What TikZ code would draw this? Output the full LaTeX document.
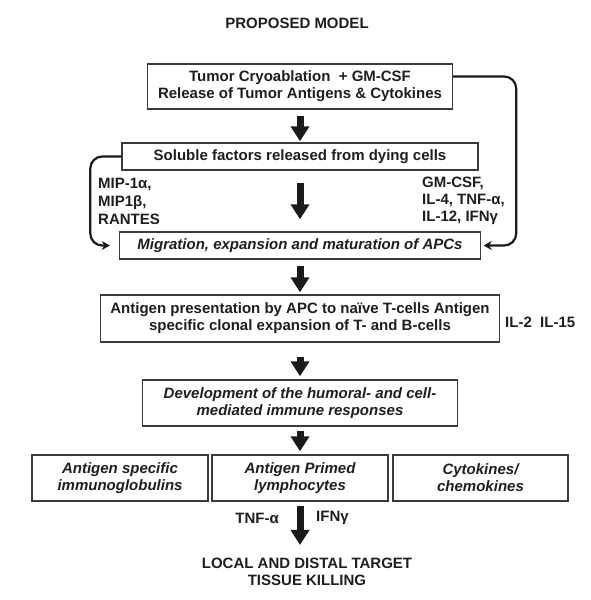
\documentclass[tikz,border=0pt]{standalone}
\usepackage{fontspec}
\setmainfont{Liberation Sans}
\usetikzlibrary{arrows.meta}
\definecolor{boxgray}{HTML}{3A3A3A}
\definecolor{txt}{HTML}{1E1E1E}
\definecolor{arr}{HTML}{1A1A1A}
\begin{document}
\begin{tikzpicture}[x=1pt,y=-1pt,
  font=\fontsize{15pt}{17pt}\selectfont\bfseries,
  every node/.style={text=txt, inner sep=0pt},
  box/.style={draw=boxgray, line width=1.4pt, align=center},
  ibox/.style={box, font=\fontsize{15pt}{17pt}\selectfont\bfseries\itshape},
  bigarrow/.style={draw=arr, line width=7pt, -{Triangle[length=15pt,width=18pt]}},
  link/.style={draw=arr, line width=2.2pt, rounded corners=12pt, -{Stealth[length=8pt,width=9pt]}}]
\useasboundingbox (0,0) rectangle (591,600);

\node (title) at (297,23) {PROPOSED MODEL};

\node[box, minimum width=305pt, minimum height=45pt] (b1) at (300,86.5)
  {Tumor Cryoablation\ \ + GM-CSF\\Release of Tumor Antigens \& Cytokines};
\node[box, minimum width=356pt, minimum height=27pt] (b2) at (300,156.5)
  {Soluble factors released from dying cells};
\node[ibox, minimum width=361pt, minimum height=27pt] (b3) at (300,245.5)
  {Migration, expansion and maturation of APCs};
\node[box, minimum width=399pt, minimum height=47pt] (b4) at (300,318.5)
  {Antigen presentation by APC to naïve T-cells Antigen\\specific clonal expansion of T- and B-cells};
\node[ibox, minimum width=315pt, minimum height=46pt] (b5) at (300,403)
  {Development of the humoral- and cell-\\mediated immune responses};
\node[ibox, minimum width=176pt, minimum height=46pt] (ba) at (120,478)
  {Antigen specific\\immunoglobulins};
\node[ibox, minimum width=176pt, minimum height=46pt] (bb) at (300,478)
  {Antigen Primed\\lymphocytes};
\node[ibox, minimum width=175pt, minimum height=46pt] (bc) at (480.5,478)
  {Cytokines/\\chemokines};

\node[anchor=west, align=left, font=\fontsize{15pt}{18pt}\selectfont\bfseries] (lab1) at (98,201.5)
  {MIP-1α,\\MIP1β,\\RANTES};
\node[anchor=west, align=left, font=\fontsize{15pt}{17pt}\selectfont\bfseries] (lab2) at (422,200.5)
  {GM-CSF,\\IL-4, TNF-α,\\IL-12, IFNγ};
\node[anchor=west] (il) at (505,322) {IL-2~~IL-15};

\node[align=center] (kill) at (307,572) {LOCAL AND DISTAL TARGET\\TISSUE KILLING};
\node[anchor=east] (tnf) at (279,518) {TNF-α};
\node[anchor=west] (ifn) at (316,518) {IFNγ};

\draw[bigarrow, shorten <=6pt, shorten >=1pt] (b1.south) -- (b2.north);
\draw[bigarrow, shorten <=12pt, shorten >=12pt] (b2.south) -- (b3.north);
\draw[bigarrow, shorten <=6pt, shorten >=2pt] (b3.south) -- (b4.north);
\draw[bigarrow, shorten <=14pt, shorten >=3pt] (b4.south) -- (b5.north);
\draw[bigarrow, shorten <=4pt, shorten >=3pt] (b5.south) -- (bb.north);
\draw[bigarrow, shorten <=4pt, shorten >=13pt] (bb.south) -- (bb.south |- kill.north);

\draw[link, shorten >=9pt] (b2.west) -- ++(-31,0) |- (b3.west);
\draw[link, shorten >=2.5pt] ([yshift=10pt]b1.east) -- ++(63,0) |- (b3.east);
\end{tikzpicture}
\end{document}
